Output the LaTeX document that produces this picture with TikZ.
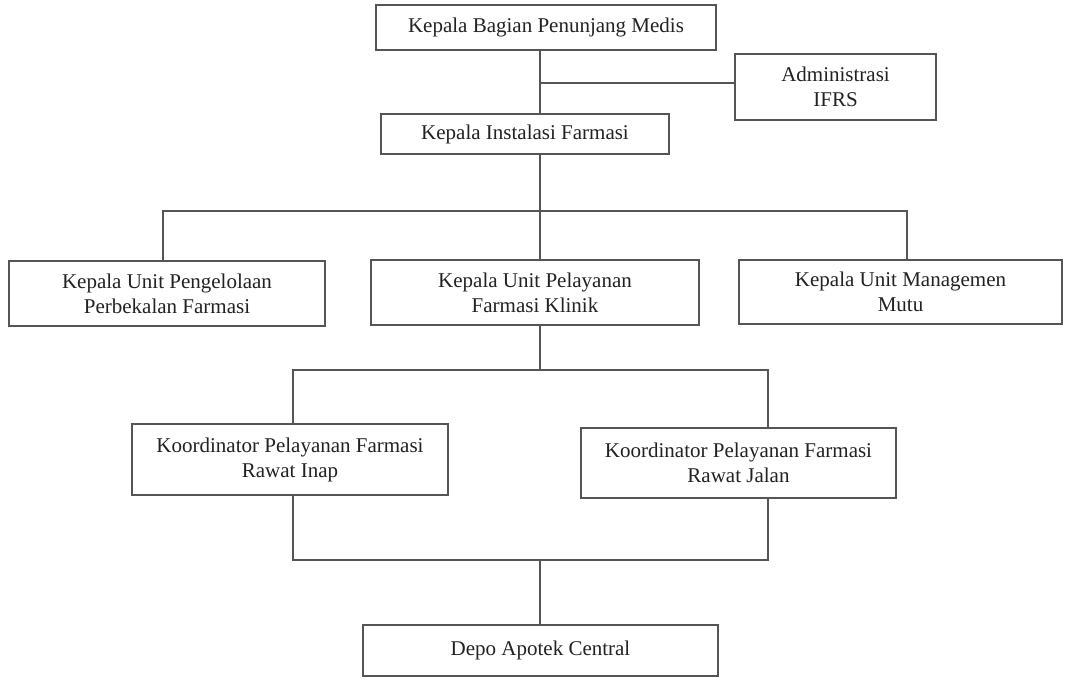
\documentclass[tikz,border=0pt]{standalone}
\usepackage{fontspec}
\setmainfont{Liberation Serif}
\definecolor{linecol}{HTML}{555555}
\definecolor{textcol}{HTML}{222222}
\begin{document}
\begin{tikzpicture}[x=1pt,y=-1pt,
  orgbox/.style={draw=linecol, line width=1.3pt, rectangle, inner sep=0pt, align=center,
    text=textcol, font=\fontsize{21}{25}\selectfont},
  link/.style={draw=linecol, line width=1.3pt}]
\useasboundingbox (0,0) rectangle (1065,677);
\fill[white] (0,0) rectangle (1065,677);
\node[orgbox, minimum width=340pt, minimum height=45pt] (top) at (546,27.5) {Kepala Bagian Penunjang Medis};
\node[orgbox, minimum width=201pt, minimum height=66pt] (adm) at (835.5,87) {Administrasi\\IFRS};
\node[orgbox, minimum width=288pt, minimum height=40pt] (inst) at (525,134) {Kepala Instalasi Farmasi};
\node[orgbox, minimum width=316pt, minimum height=65pt] (peng) at (167,293.5) {Kepala Unit Pengelolaan\\Perbekalan Farmasi};
\node[orgbox, minimum width=328pt, minimum height=65pt] (pel) at (535,292.5) {Kepala Unit Pelayanan\\Farmasi Klinik};
\node[orgbox, minimum width=323pt, minimum height=64pt] (mutu) at (900.5,292) {Kepala Unit Managemen\\Mutu};
\node[orgbox, minimum width=316pt, minimum height=71pt] (inap) at (290,459.5) {Koordinator Pelayanan Farmasi\\Rawat Inap};
\node[orgbox, minimum width=315pt, minimum height=70pt] (jalan) at (738.5,463) {Koordinator Pelayanan Farmasi\\Rawat Jalan};
\node[orgbox, minimum width=355pt, minimum height=51pt] (depo) at (540.5,650.5) {Depo Apotek Central};
% spine coordinates
\coordinate (sx) at (540,0);
\coordinate (b1) at (163,211);
\coordinate (b3) at (907,211);
\coordinate (hA) at (540,83);
\coordinate (k1) at (293,370);
\coordinate (k2) at (768,370);
\coordinate (m1) at (293,560);
\coordinate (m2) at (768,560);
\coordinate (mc) at (540,560);
% connectors
\draw[link] (sx |- top.south) -- (sx |- inst.north);
\draw[link] (hA) -- (hA -| adm.west);
\draw[link] (sx |- inst.south) -- (sx |- pel.north);
\draw[link] (b1 |- peng.north) -- (b1) -- (b3) -- (b3 |- mutu.north);
\draw[link] (sx |- pel.south) -- (sx |- k1);
\draw[link] (k1 |- inap.north) -- (k1) -- (k2) -- (k2 |- jalan.north);
\draw[link] (k1 |- inap.south) -- (m1) -- (m2) -- (k2 |- jalan.south);
\draw[link] (mc) -- (mc |- depo.north);
\end{tikzpicture}
\end{document}
